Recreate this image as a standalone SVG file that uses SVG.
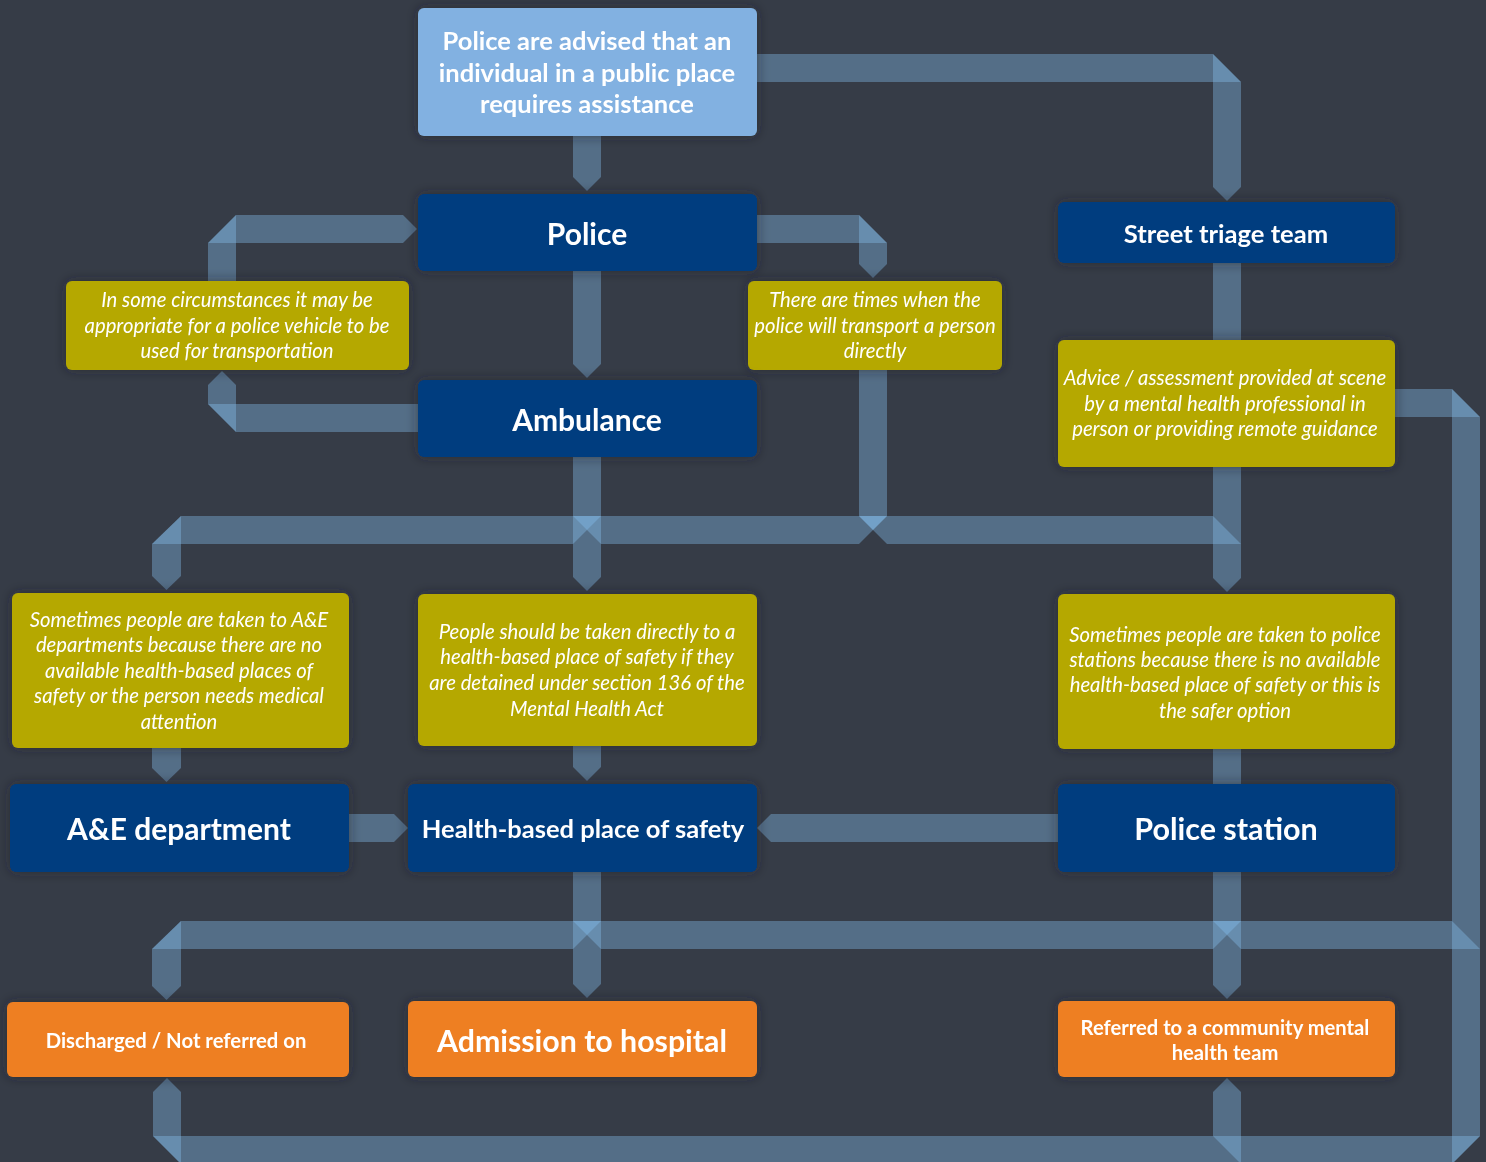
<svg xmlns="http://www.w3.org/2000/svg" width="1486" height="1162" viewBox="0 0 1486 1162">
<defs>
<style>
.b{fill:#86c0ee;fill-opacity:0.382}
.lb{fill:#82b1e1}
.db{fill:#013c7f}
.yl{fill:#b5a800}
.or{fill:#ee7f22}
.t{font-family:Lato,"Open Sans","Liberation Sans",sans-serif;fill:#ffffff;text-anchor:middle}
.tb{font-weight:700}
.ti{font-style:italic;font-size:20.3px}
</style>
<filter id="sh" x="-10%" y="-20%" width="120%" height="140%">
<feDropShadow dx="0" dy="0" stdDeviation="6" flood-color="#1c2028" flood-opacity="0.55"/>
</filter>
</defs>
<rect width="1486" height="1162" fill="#363c47"/>
<g id="connectors">
<polygon class="b" points="573,130 601,130 601,177 587,191 573,177"/>
<polygon class="b" points="750,54 1213,54 1241,82 750,82"/>
<polygon class="b" points="1213,54 1241,82 1241,187 1227,201 1213,187"/>
<polygon class="b" points="236,215 403,215 417,229 403,243 208,243"/>
<polygon class="b" points="208,243 236,215 236,285 208,285"/>
<polygon class="b" points="208,404 425,404 425,432 236,432"/>
<polygon class="b" points="208,385 222,371 236,385 236,432 208,404"/>
<polygon class="b" points="750,215 859,215 887,243 750,243"/>
<polygon class="b" points="859,215 887,243 887,264 873,278 859,264"/>
<polygon class="b" points="573,265 601,265 601,364 587,378 573,364"/>
<polygon class="b" points="859,365 887,365 887,516 873,530 859,516"/>
<polygon class="b" points="573,452 601,452 601,577 587,591 573,577"/>
<polygon class="b" points="181,516 601,516 573,544 152,544"/>
<polygon class="b" points="181,516 181,576 166.5,590 152,576 152,544"/>
<polygon class="b" points="573,516 887,516 859,544 601,544"/>
<polygon class="b" points="859,516 1213,516 1241,544 887,544"/>
<polygon class="b" points="1213,462 1241,462 1241,578 1227,592 1213,578"/>
<polygon class="b" points="1213,258 1241,258 1241,345 1213,345"/>
<polygon class="b" points="1390,389 1452,389 1480,417 1390,417"/>
<polygon class="b" points="1452,389 1480,417 1480,1136 1452,1164"/>
<polygon class="b" points="152,743 181,743 181,768 166.5,782 152,768"/>
<polygon class="b" points="573,741 601,741 601,767 587,781 573,767"/>
<polygon class="b" points="1213,744 1241,744 1241,789 1213,789"/>
<polygon class="b" points="344,814 394,814 408,828 394,842 344,842"/>
<polygon class="b" points="1063,814 771,814 757,828 771,842 1063,842"/>
<polygon class="b" points="573,867 601,867 601,984 587,998 573,984"/>
<polygon class="b" points="181,921 601,921 573,949 152,949"/>
<polygon class="b" points="181,921 181,986 166.5,1000 152,986 152,949"/>
<polygon class="b" points="573,921 1241,921 1213,949 601,949"/>
<polygon class="b" points="1213,921 1452,921 1480,949 1241,949"/>
<polygon class="b" points="1213,867 1241,867 1241,985 1227,999 1213,985"/>
<polygon class="b" points="1213,1092 1227,1078 1241,1092 1241,1164 1213,1136"/>
<polygon class="b" points="153,1136 1480,1136 1452,1164 181,1164"/>
<polygon class="b" points="153,1092 167,1078 181,1092 181,1164 153,1136"/>
</g>
<g id="n-start" filter="url(#sh)">
<rect class="lb" x="418" y="8" width="339" height="128" rx="6"/>
<text class="t tb" font-size="25.5"><tspan x="587" y="50">Police are advised that an</tspan><tspan x="587" y="82">individual in a public place</tspan><tspan x="587" y="113">requires assistance</tspan></text>
</g>
<g id="n-police" filter="url(#sh)">
<rect class="db" x="418" y="194" width="339" height="77" rx="6"/>
<text class="t tb" font-size="30" x="587" y="245">Police</text>
</g>
<g id="n-triage" filter="url(#sh)">
<rect class="db" x="1058" y="202" width="337" height="61" rx="6"/>
<text class="t tb" font-size="25.6" x="1226" y="243">Street triage team</text>
</g>
<g id="n-vehicle" filter="url(#sh)">
<rect class="yl" x="66" y="281" width="343" height="89" rx="6"/>
<text class="t ti"><tspan x="237" y="307">In some circumstances it may be</tspan><tspan x="237" y="333">appropriate for a police vehicle to be</tspan><tspan x="237" y="358">used for transportation</tspan></text>
</g>
<g id="n-direct" filter="url(#sh)">
<rect class="yl" x="748" y="281" width="254" height="89" rx="6"/>
<text class="t ti"><tspan x="875" y="307">There are times when the</tspan><tspan x="875" y="333">police will transport a person</tspan><tspan x="875" y="358">directly</tspan></text>
</g>
<g id="n-ambulance" filter="url(#sh)">
<rect class="db" x="418" y="380" width="339" height="77" rx="6"/>
<text class="t tb" font-size="30" x="587" y="431">Ambulance</text>
</g>
<g id="n-advice" filter="url(#sh)">
<rect class="yl" x="1058" y="340" width="337" height="127" rx="6"/>
<text class="t ti"><tspan x="1225" y="385">Advice / assessment provided at scene</tspan><tspan x="1225" y="411">by a mental health professional in</tspan><tspan x="1225" y="436">person or providing remote guidance</tspan></text>
</g>
<g id="n-ae-note" filter="url(#sh)">
<rect class="yl" x="12" y="593" width="337" height="155" rx="6"/>
<text class="t ti"><tspan x="179" y="627">Sometimes people are taken to A&amp;E</tspan><tspan x="179" y="652">departments because there are no</tspan><tspan x="179" y="678">available health-based places of</tspan><tspan x="179" y="703">safety or the person needs medical</tspan><tspan x="179" y="729">attention</tspan></text>
</g>
<g id="n-hbpos-note" filter="url(#sh)">
<rect class="yl" x="418" y="594" width="339" height="152" rx="6"/>
<text class="t ti"><tspan x="587" y="639">People should be taken directly to a</tspan><tspan x="587" y="664">health-based place of safety if they</tspan><tspan x="587" y="690">are detained under section 136 of the</tspan><tspan x="587" y="716">Mental Health Act</tspan></text>
</g>
<g id="n-station-note" filter="url(#sh)">
<rect class="yl" x="1058" y="594" width="337" height="155" rx="6"/>
<text class="t ti"><tspan x="1225" y="642">Sometimes people are taken to police</tspan><tspan x="1225" y="667">stations because there is no available</tspan><tspan x="1225" y="692">health-based place of safety or this is</tspan><tspan x="1225" y="718">the safer option</tspan></text>
</g>
<g id="n-ae" filter="url(#sh)">
<rect class="db" x="10" y="784" width="339" height="88" rx="6"/>
<text class="t tb" font-size="30" x="179" y="840">A&amp;E department</text>
</g>
<g id="n-hbpos" filter="url(#sh)">
<rect class="db" x="408" y="784" width="349" height="88" rx="6"/>
<text class="t tb" font-size="25.5" x="583" y="838">Health-based place of safety</text>
</g>
<g id="n-station" filter="url(#sh)">
<rect class="db" x="1058" y="784" width="337" height="88" rx="6"/>
<text class="t tb" font-size="30.5" x="1226" y="840">Police station</text>
</g>
<g id="n-discharged" filter="url(#sh)">
<rect class="or" x="7" y="1002" width="342" height="75" rx="6"/>
<text class="t tb" font-size="20.3" x="176" y="1048">Discharged / Not referred on</text>
</g>
<g id="n-admission" filter="url(#sh)">
<rect class="or" x="408" y="1001" width="349" height="76" rx="6"/>
<text class="t tb" font-size="30.3" x="582" y="1052">Admission to hospital</text>
</g>
<g id="n-referred" filter="url(#sh)">
<rect class="or" x="1058" y="1001" width="337" height="76" rx="6"/>
<text class="t tb" font-size="20.2"><tspan x="1225" y="1035">Referred to a community mental</tspan><tspan x="1225" y="1060">health team</tspan></text>
</g>
</svg>
